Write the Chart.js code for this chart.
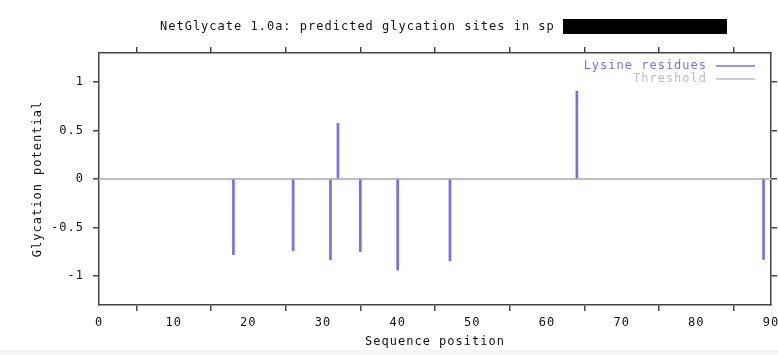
<!DOCTYPE html>
<html>
<head>
<meta charset="utf-8">
<script src="https://cdn.jsdelivr.net/npm/chart.js@4.4.0/dist/chart.umd.min.js"></script>
<style>
  html, body { margin: 0; padding: 0; background: #f5f5f5; }
  #wrap { width: 778px; height: 350px; background: #fff; }
  canvas { display: block; }
</style>
</head>
<body>
<div id="wrap"><canvas id="chart" width="778" height="350"></canvas></div>
<script>
const positions = [18, 26, 31, 32, 35, 40, 47, 64, 89];
const potentials = [-0.78, -0.74, -0.835, 0.575, -0.75, -0.94, -0.845, 0.905, -0.83];
const thresholdX = [0, 90];
const thresholdY = [0, 0];
const xTicks = [0, 10, 20, 30, 40, 50, 60, 70, 80, 90];
const yTicks = [-1, -0.5, 0, 0.5, 1];

const FONT = 'DejaVu Sans Mono';
const BLUE = '#7070ff';
const GREY = '#bdbdbd';
const AXIS = '#444';

// gnuplot-ish spacing of the terminal font
const spacing = {
  id: 'spacing',
  beforeLayout(chart) { chart.ctx.letterSpacing = '1px'; },
  beforeDraw(chart) { chart.ctx.letterSpacing = '1px'; }
};

const decor = {
  id: 'decor',
  afterDraw(chart) {
    const ctx = chart.ctx;
    const area = chart.chartArea;
    ctx.save();
    ctx.letterSpacing = '1px';
    ctx.font = '12px ' + FONT;
    ctx.textBaseline = 'middle';

    // title + redaction box
    ctx.fillStyle = '#111';
    ctx.textAlign = 'left';
    ctx.fillText('NetGlycate 1.0a: predicted glycation sites in sp', 160, 27);
    ctx.fillStyle = '#000';
    ctx.fillRect(563, 19, 164, 15);

    // legend inside top-right
    const textRight = area.right - 64;
    const lineL = area.right - 55, lineR = area.right - 16;
    chart.data.datasets.forEach((ds, i) => {
      const y = area.top + 13 + i * 13;
      ctx.fillStyle = ds.legendColor;
      ctx.textAlign = 'right';
      ctx.fillText(ds.label, textRight, y);
      ctx.strokeStyle = ds.legendColor;
      ctx.lineWidth = 1.5;
      ctx.beginPath();
      ctx.moveTo(lineL, y);
      ctx.lineTo(lineR, y);
      ctx.stroke();
    });
    ctx.restore();
  }
};

const tickGrid = {
  display: true,
  drawOnChartArea: false,
  drawTicks: true,
  tickLength: 6,
  color: AXIS,
  lineWidth: 1.5
};
const border = { display: true, color: AXIS, width: 1.5 };

new Chart(document.getElementById('chart'), {
  type: 'bar',
  data: {
    datasets: [
      {
        type: 'bar',
        label: 'Lysine residues',
        legendColor: BLUE,
        data: positions.map((p, i) => ({ x: p, y: potentials[i] })),
        backgroundColor: BLUE,
        borderWidth: 0,
        barThickness: 2,
        order: 0
      },
      {
        type: 'line',
        label: 'Threshold',
        legendColor: GREY,
        data: thresholdX.map((x, i) => ({ x: x, y: thresholdY[i] })),
        borderColor: GREY,
        borderWidth: 2,
        pointRadius: 0,
        order: 1
      }
    ]
  },
  options: {
    responsive: false,
    animation: false,
    layout: { padding: 0 },
    plugins: {
      legend: { display: false },
      title: { display: false },
      tooltip: { enabled: false }
    },
    scales: {
      x: {
        type: 'linear',
        position: 'bottom',
        min: 0,
        max: 90,
        offset: false,
        grid: tickGrid,
        border: border,
        afterBuildTicks: s => { s.ticks = xTicks.map(v => ({ value: v })); },
        ticks: { color: '#111', padding: 5, maxRotation: 0, font: { family: FONT, size: 12 } },
        title: {
          display: true,
          text: 'Sequence position',
          color: '#111',
          font: { family: FONT, size: 12 },
          padding: { top: 0, bottom: 1 }
        },
        afterFit: s => { s.height = 45; s.paddingLeft = 0; s.paddingRight = 0; }
      },
      x2: {
        type: 'linear',
        position: 'top',
        min: 0,
        max: 90,
        offset: false,
        grid: tickGrid,
        border: border,
        afterBuildTicks: s => { s.ticks = xTicks.map(v => ({ value: v })); },
        ticks: { display: false },
        afterFit: s => { s.height = 53; s.paddingLeft = 0; s.paddingRight = 0; }
      },
      y: {
        position: 'left',
        min: -1.3,
        max: 1.3,
        grid: tickGrid,
        border: border,
        afterBuildTicks: s => { s.ticks = yTicks.map(v => ({ value: v })); },
        ticks: {
          color: '#111',
          padding: 9,
          font: { family: FONT, size: 12 },
          callback: v => String(v)
        },
        title: {
          display: true,
          text: 'Glycation potential',
          color: '#111',
          font: { family: FONT, size: 12 },
          padding: { top: 31, bottom: 0 }
        },
        afterFit: s => { s.width = 99; s.paddingTop = 0; s.paddingBottom = 0; }
      },
      y2: {
        position: 'right',
        min: -1.3,
        max: 1.3,
        grid: tickGrid,
        border: border,
        afterBuildTicks: s => { s.ticks = yTicks.map(v => ({ value: v })); },
        ticks: { display: false },
        afterFit: s => { s.width = 7; s.paddingTop = 0; s.paddingBottom = 0; }
      }
    }
  },
  plugins: [spacing, decor]
});
</script>
</body>
</html>
